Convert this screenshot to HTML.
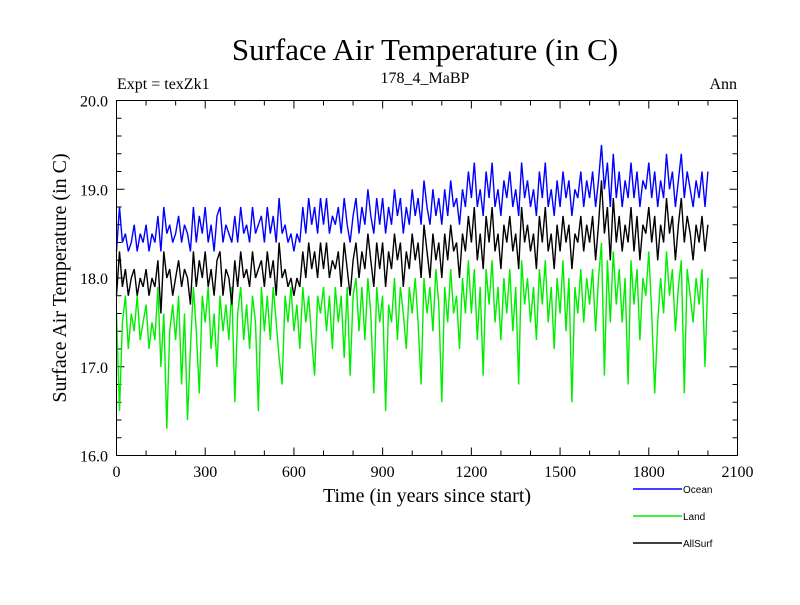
<!DOCTYPE html>
<html><head><meta charset="utf-8"><style>
html,body{margin:0;padding:0;background:#fff;}
svg text{font-family:"Liberation Serif",serif;fill:#000;}
</style></head><body>
<svg id="chart" width="800" height="600" viewBox="0 0 800 600">
<text x="425" y="60" font-size="31" text-anchor="middle">Surface Air Temperature (in C)</text>
<text x="117" y="89" font-size="16">Expt = texZk1</text>
<text x="425" y="83" font-size="16" text-anchor="middle">178_4_MaBP</text>
<text x="737" y="89" font-size="16" text-anchor="end">Ann</text>
<text x="0" y="0" font-size="20" text-anchor="middle" transform="translate(66,278) rotate(-90)">Surface Air Temperature (in C)</text>
<text x="427" y="502" font-size="20" text-anchor="middle">Time (in years since start)</text>
<g id="axes"></g>
<g id="series"></g>
<rect x="116.5" y="100.5" width="621" height="355" fill="none" stroke="#000" stroke-width="1"/>
<g id="legend"></g>
</svg>
<script>
const years = Array.from({length:201},(_,i)=>i*10);
const ocean = [
18.3,18.8,18.4,18.5,18.3,18.4,18.6,18.3,18.5,18.4,
18.6,18.3,18.5,18.4,18.7,18.3,18.8,18.5,18.6,18.4,
18.5,18.7,18.4,18.6,18.5,18.3,18.8,18.4,18.7,18.5,
18.8,18.4,18.6,18.3,18.7,18.8,18.4,18.6,18.5,18.4,
18.7,18.4,18.8,18.5,18.6,18.4,18.8,18.5,18.6,18.7,
18.4,18.8,18.5,18.7,18.4,18.9,18.5,18.6,18.4,18.5,
18.3,18.5,18.4,18.8,18.5,18.9,18.6,18.8,18.5,18.9,
18.6,18.9,18.5,18.7,18.6,18.8,18.5,18.9,18.6,18.4,
18.7,18.9,18.5,18.8,18.6,19.0,18.7,18.5,18.9,18.6,
18.9,18.5,18.8,18.6,19.0,18.7,18.9,18.5,18.8,18.6,
19.0,18.7,18.9,18.6,19.1,18.8,18.6,19.0,18.7,18.9,
18.6,19.0,18.7,19.1,18.8,18.9,18.6,19.0,18.8,19.2,
18.9,19.3,18.8,19.0,18.7,19.2,18.9,19.3,18.8,19.0,
18.7,19.1,18.9,19.2,18.8,19.0,18.7,19.3,18.9,19.1,
18.8,19.0,18.7,19.2,18.9,19.3,18.8,19.0,18.7,19.1,
18.8,19.2,18.9,19.1,18.7,19.0,18.9,19.2,18.8,19.1,
18.9,19.2,18.8,19.1,19.5,19.0,19.3,18.8,19.4,18.9,
19.2,18.8,19.1,18.9,19.3,18.9,19.2,18.8,19.1,19.0,
19.3,18.9,19.2,18.8,19.1,18.9,19.4,19.0,19.2,18.8,
19.1,19.4,18.9,19.2,19.0,18.8,19.1,18.9,19.2,18.8,
19.2];
const allSurf = [
17.8,18.3,17.9,18.1,17.8,18.0,18.1,17.8,18.0,17.9,
18.1,17.8,18.0,17.9,18.2,17.6,18.3,18.0,18.1,17.8,
18.0,18.2,17.9,18.1,18.0,17.7,18.3,17.9,18.2,18.0,
18.3,17.9,18.1,17.8,18.2,18.3,17.8,18.1,18.0,17.7,
18.2,17.9,18.3,18.0,18.1,17.9,18.3,18.0,18.1,18.2,
17.9,18.3,18.0,18.2,17.8,18.4,18.0,18.1,17.9,18.0,
17.8,18.0,17.9,18.3,18.0,18.4,18.1,18.3,18.0,18.4,
18.1,18.4,18.0,18.2,18.1,18.3,17.9,18.4,18.1,17.8,
18.2,18.4,18.0,18.3,18.1,18.5,18.2,17.9,18.4,18.1,
18.4,17.9,18.3,18.1,18.5,18.2,18.4,17.9,18.3,18.1,
18.5,18.2,18.4,18.0,18.6,18.3,18.0,18.5,18.2,18.4,
18.0,18.5,18.2,18.6,18.3,18.4,18.0,18.5,18.3,18.7,
18.4,18.8,18.2,18.5,18.1,18.7,18.4,18.8,18.3,18.5,
18.1,18.6,18.4,18.7,18.3,18.5,18.1,18.8,18.4,18.6,
18.3,18.5,18.1,18.7,18.4,18.8,18.3,18.5,18.1,18.6,
18.3,18.7,18.4,18.6,18.1,18.5,18.4,18.7,18.3,18.6,
18.4,18.7,18.2,18.6,19.1,18.5,18.8,18.2,18.9,18.4,
18.7,18.3,18.6,18.4,18.8,18.3,18.7,18.2,18.6,18.5,
18.8,18.4,18.7,18.2,18.6,18.4,18.9,18.5,18.7,18.2,
18.6,18.9,18.4,18.7,18.5,18.2,18.6,18.4,18.7,18.3,
18.6];
const land = [
17.6,16.5,17.5,17.8,17.2,17.6,17.4,17.8,17.3,17.5,
17.7,17.2,17.5,17.3,17.9,17.0,17.6,16.3,17.4,17.7,
17.3,17.8,16.8,17.6,16.4,17.2,17.9,17.4,16.7,17.8,
17.5,17.9,17.2,17.6,17.0,17.8,17.4,17.7,17.3,17.9,
16.6,17.6,17.9,17.3,17.7,17.2,17.8,17.5,16.5,17.9,
17.4,17.8,17.3,17.9,17.5,17.1,16.8,17.8,17.5,17.9,
17.4,17.7,17.2,17.9,17.5,17.8,17.3,16.9,17.8,17.6,
17.9,17.4,17.8,17.2,17.9,17.5,17.8,17.1,17.9,16.9,
17.8,18.0,17.4,17.9,17.3,18.0,17.6,16.7,17.9,17.5,
17.8,16.5,17.7,17.5,18.0,17.3,17.9,17.6,17.2,17.9,
17.6,18.0,17.5,16.8,18.0,17.6,17.9,17.4,18.1,17.7,
16.6,17.9,17.5,18.1,17.6,17.8,17.2,18.0,17.6,18.2,
17.6,18.1,17.3,17.9,16.9,18.1,17.7,18.2,17.5,17.9,
17.3,18.0,17.6,18.1,17.4,17.9,16.8,18.2,17.7,18.0,
17.5,17.9,17.3,18.1,17.7,18.2,17.5,17.9,17.2,18.0,
17.6,18.2,17.4,18.0,16.6,17.9,17.6,18.1,17.5,18.0,
17.7,18.1,17.4,18.0,18.4,16.9,18.2,17.5,18.3,17.7,
18.1,17.5,18.0,16.8,18.2,17.7,18.1,17.3,18.0,17.8,
18.3,17.6,16.7,17.5,18.0,17.6,18.3,17.8,18.1,17.4,
17.9,18.2,16.7,18.1,17.8,17.5,18.0,17.7,18.1,17.0,
18.0];
const xTickLabels = ["0","300","600","900","1200","1500","1800","2100"];
const yTickLabels = ["16.0","17.0","18.0","19.0","20.0"];
const legendNames = ["Ocean","Land","AllSurf"];

const X0=116.5,X1=737.5,Y0=455.5,Y1=100.5;
const xs=v=>X0+(v-0)/2100*(X1-X0);
const ys=v=>Y0-(v-16)/4*(Y0-Y1);
const NS="http://www.w3.org/2000/svg";
function mk(t,a,p){const e=document.createElementNS(NS,t);for(const k in a)e.setAttribute(k,a[k]);p.appendChild(e);return e;}
const axes=document.getElementById('axes');
for(let v=0;v<=2100;v+=100){
  const major=v%300===0, len=major?8:5, x=xs(v);
  const t1=mk('line',{x1:x,x2:x,y1:Y0,y2:Y0-len,stroke:'#000'},axes);
  
  
  const t2=mk('line',{x1:x,x2:x,y1:Y1,y2:Y1+len,stroke:'#000'},axes);
  
  
}
xTickLabels.forEach((s,i)=>{
  const t=mk('text',{x:xs(+s),y:477,'font-size':16,'text-anchor':'middle'},axes);t.textContent=s;
  
  
});
for(let k=0;k<=20;k++){
  const v=16+k*0.2, major=k%5===0, len=major?8:5, y=ys(v);
  const t1=mk('line',{x1:X0,x2:X0+len,y1:y,y2:y,stroke:'#000'},axes);
  
  
  const t2=mk('line',{x1:X1,x2:X1-len,y1:y,y2:y,stroke:'#000'},axes);
  
  
}
yTickLabels.forEach(s=>{
  const t=mk('text',{x:108,y:ys(+s)+6,'font-size':16,'text-anchor':'end'},axes);t.textContent=s;
  
  
});
const ser=document.getElementById('series');
const seriesList=[[land,'#00ee00','land-line'],[allSurf,'#000','allsurf-line'],[ocean,'#0000ff','ocean-line']];
seriesList.forEach(([d,c,n])=>{
  const pts=d.map((v,i)=>xs(years[i]).toFixed(1)+','+ys(v).toFixed(1)).join(' ');
  const p=mk('polyline',{points:pts,fill:'none',stroke:c,'stroke-width':1.4},ser);
  
  
});
const lg=document.getElementById('legend');
const lcol=['#0000ff','#00ee00','#000'];
legendNames.forEach((s,i)=>{
  const y=489+i*27;
  const l=mk('line',{x1:633,x2:682,y1:y,y2:y,stroke:lcol[i],'stroke-width':1.5},lg);
  
  
  const t=mk('text',{x:683,y:y+4,'font-size':10,style:'font-family:"Liberation Sans",sans-serif'},lg);t.textContent=s;
  
  
});
</script>
</body></html>
